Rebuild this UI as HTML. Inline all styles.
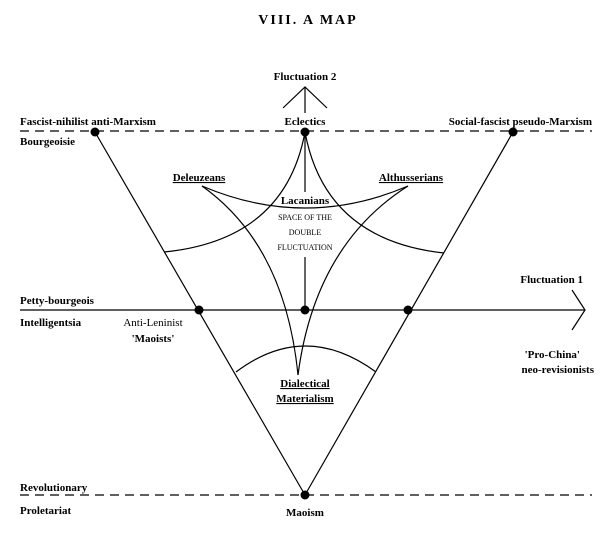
<!DOCTYPE html>
<html><head><style>
html,body{margin:0;padding:0;background:#fff;}
svg{display:block;}
text{font-family:"Liberation Serif",serif;fill:#000;}
.b{font-size:11px;font-weight:bold;}
.n{font-size:11px;}
</style></head><body>
<svg width="616" height="536" viewBox="0 0 616 536" xmlns="http://www.w3.org/2000/svg">
<text x="308" y="24" text-anchor="middle" style="font-size:14px;font-weight:bold;letter-spacing:2px">VIII. A MAP</text>

<g stroke="#000" fill="none" stroke-width="1.2">
<line x1="20" y1="131" x2="592" y2="131" stroke-dasharray="9,6"/>
<line x1="20" y1="495" x2="592" y2="495" stroke-dasharray="9,6"/>
<line x1="20" y1="310" x2="585" y2="310"/>
<polyline points="572,290 585,310 572,330"/>
<line x1="95" y1="132" x2="305" y2="495"/>
<line x1="513" y1="132" x2="305" y2="495"/>
<line x1="305" y1="87" x2="305" y2="113"/>
<polyline points="283,108 305,87 327,108"/>
<line x1="305" y1="132" x2="305" y2="192"/>
<line x1="305" y1="257" x2="305" y2="310"/>
<path d="M305,132 Q285,240 164,252"/>
<path d="M305,132 Q325,240 444,253"/>
<path d="M202,186 Q305,230 408,186"/>
<path d="M202,186 Q285,245 298,375"/>
<path d="M408,186 Q315,245 298,375"/>
<path d="M236,372 Q305,320 376,372"/>
</g>
<g fill="#000">
<circle cx="95" cy="132" r="4.5"/><circle cx="305" cy="132" r="4.5"/><circle cx="513" cy="132" r="4.5"/>
<circle cx="199" cy="310" r="4.5"/><circle cx="305" cy="310" r="4.5"/><circle cx="408" cy="310" r="4.5"/>
<circle cx="305" cy="495" r="4.5"/>
</g>

<text class="b" x="305" y="80" text-anchor="middle">Fluctuation 2</text>
<text class="b" x="305" y="125" text-anchor="middle">Eclectics</text>
<text class="b" x="20" y="125">Fascist-nihilist anti-Marxism</text>
<text class="b" x="20" y="145">Bourgeoisie</text>
<text class="b" x="592" y="125" text-anchor="end">Social-fascist pseudo-Marxism</text>
<text class="b" x="199" y="181" text-anchor="middle" text-decoration="underline">Deleuzeans</text>
<text class="b" x="411" y="181" text-anchor="middle" text-decoration="underline">Althusserians</text>
<text class="b" x="305" y="204" text-anchor="middle">Lacanians</text>
<text x="305" y="220" text-anchor="middle" style="font-size:8px">SPACE OF THE</text>
<text x="305" y="235" text-anchor="middle" style="font-size:8px">DOUBLE</text>
<text x="305" y="250" text-anchor="middle" style="font-size:8px">FLUCTUATION</text>
<text class="b" x="20" y="304">Petty-bourgeois</text>
<text class="b" x="20" y="326">Intelligentsia</text>
<text class="n" x="153" y="326" text-anchor="middle">Anti-Leninist</text>
<text class="b" x="153" y="342" text-anchor="middle">'Maoists'</text>
<text class="b" x="583" y="283" text-anchor="end">Fluctuation 1</text>
<text class="b" x="580" y="358" text-anchor="end">'Pro-China'</text>
<text class="b" x="594" y="373" text-anchor="end">neo-revisionists</text>
<text class="b" x="305" y="387" text-anchor="middle" text-decoration="underline">Dialectical</text>
<text class="b" x="305" y="402" text-anchor="middle" text-decoration="underline">Materialism</text>
<text class="b" x="20" y="491">Revolutionary</text>
<text class="b" x="20" y="514">Proletariat</text>
<text class="b" x="305" y="516" text-anchor="middle">Maoism</text>
</svg>
</body></html>
